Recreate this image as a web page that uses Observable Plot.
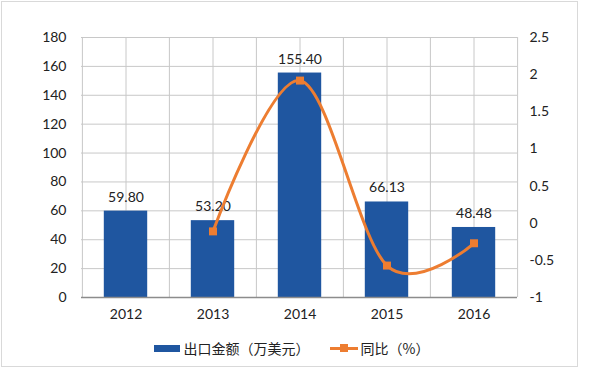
<!DOCTYPE html>
<html>
<head>
<meta charset="utf-8">
<script src="https://cdn.jsdelivr.net/npm/d3@7"></script>
<script src="https://cdn.jsdelivr.net/npm/@observablehq/plot@0.6"></script>
<style>
  html, body { margin: 0; padding: 0; background: #fff; }
  body { width: 600px; height: 369px; position: relative; overflow: hidden;
         font-family: Lato, "Noto Sans CJK SC", sans-serif; }
  #frame { position: absolute; left: 1px; top: 1px; width: 575px; height: 364px;
           border: 1px solid #d9d9d9; pointer-events: none; }
  #legend { position: absolute; left: 0; top: 337px; width: 583px; height: 22px;
            display: flex; justify-content: center; align-items: center;
            font-size: 14px; color: #222; font-family: "Noto Sans CJK SC", sans-serif; }
  .item { display: flex; align-items: center; margin: 0 10px; }
  .sw-bar { width: 26px; height: 7px; background: #1f56a0; margin-right: 4px; }
  .sw-line { position: relative; width: 28px; height: 10px; margin-right: 3px; }
  .sw-line:before { content: ""; position: absolute; left: 0; right: 0; top: 4px; height: 3px; background: #ed7d31; }
  .sw-line:after { content: ""; position: absolute; left: 10px; top: 1px; width: 8px; height: 8px; background: #ed7d31; }
</style>
</head>
<body>
<div id="chart"></div>
<div id="legend">
  <div class="item"><div class="sw-bar"></div><span>出口金额（万美元）</span></div>
  <div class="item"><div class="sw-line"></div><span>同比（%）</span></div>
</div>
<div id="frame"></div>
<script>
const years = ["2012", "2013", "2014", "2015", "2016"];
const exportValues = [59.80, 53.20, 155.40, 66.13, 48.48];
const yoyYears = ["2013", "2014", "2015", "2016"];
const yoyValues = [-0.11, 1.92, -0.57, -0.27];
const leftTicks = [0, 20, 40, 60, 80, 100, 120, 140, 160, 180];
const rightTicks = [-1, -0.5, 0, 0.5, 1, 1.5, 2, 2.5];

const rightMin = -1, rightMax = 2.5, leftMax = 180;
const toLeft = v => (v - rightMin) * leftMax / (rightMax - rightMin);
const fromLeft = v => v * (rightMax - rightMin) / leftMax + rightMin;

const bars = years.map((y, i) => ({year: y, value: exportValues[i]}));
const yoy = yoyYears.map((y, i) => ({year: y, value: yoyValues[i], mapped: toLeft(yoyValues[i])}));

const W = 600, H = 330;
const mL = 81, mR = 83, mT = 37, mB = 33;
const step = (W - mL - mR) / years.length;
const half = step / 2;

const font = "Lato, 'Noto Sans CJK SC', sans-serif";

const chart = Plot.plot({
  width: W,
  height: H,
  marginLeft: mL,
  marginRight: mR,
  marginTop: mT,
  marginBottom: mB,
  style: {fontFamily: font, fontSize: "14px", color: "#222", background: "transparent"},
  x: {type: "band", domain: years, padding: 0, axis: null},
  y: {domain: [0, 180], axis: null},
  marks: [
    Plot.gridY(leftTicks, {stroke: "#c8c8c8", strokeOpacity: 1}),
    Plot.ruleX(years, {x: d => d, dx: -half, stroke: "#c8c8c8"}),
    Plot.ruleX(years, {x: d => d, stroke: "#c8c8c8"}),
    Plot.ruleX([years[years.length - 1]], {x: d => d, dx: half, stroke: "#c8c8c8"}),
    Plot.barY(bars, {x: "year", y: "value", fill: "#1f56a0", insetLeft: step / 4, insetRight: step / 4}),
    Plot.ruleY([0], {stroke: "#8c8c8c", strokeWidth: 1.5}),
    Plot.text(bars, {x: "year", y: "value", text: d => d.value.toFixed(2), dy: -14, fill: "#222", fontSize: 14}),
    Plot.line(yoy, {x: "year", y: "mapped", stroke: "#ed7d31", strokeWidth: 3, curve: "cardinal"}),
    Plot.dot(yoy, {x: "year", y: "mapped", symbol: "square", r: 4.5, fill: "#ed7d31", stroke: "none"}),
    Plot.axisY(leftTicks, {anchor: "left", tickSize: 0, tickPadding: 15, fontSize: 14, label: null}),
    Plot.axisY(rightTicks.map(toLeft), {anchor: "right", tickSize: 0, tickPadding: 12, fontSize: 14, label: null,
      tickFormat: d => String(+fromLeft(d).toFixed(2))}),
    Plot.axisX({tickSize: 0, tickPadding: 12, fontSize: 14, label: null})
  ]
});
document.getElementById("chart").appendChild(chart);
</script>
</body>
</html>
